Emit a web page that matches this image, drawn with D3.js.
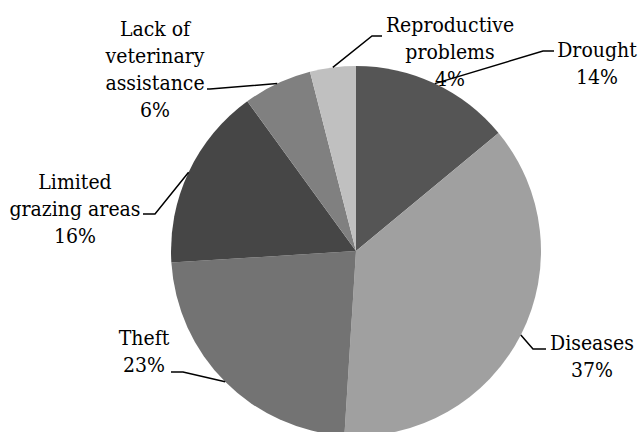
<!DOCTYPE html>
<html>
<head>
<meta charset="UTF-8">
<title>Livestock constraints</title>
<style>
    body { margin: 0; padding: 0; background: #fff; }
    svg { display: block; }
</style>
</head>
<body>
<svg></svg>
<script src="https://d3js.org/d3.v7.min.js"></script>
<script>

// chart data
let categories = ["Drought", "Diseases", "Theft", "Limited grazing areas", "Lack of veterinary assistance", "Reproductive problems"];
let values = [14, 37, 23, 16, 6, 4];
let labelLines = [
    ["Drought", "14%"],
    ["Diseases", "37%"],
    ["Theft", "23%"],
    ["Limited", "grazing areas", "16%"],
    ["Lack of", "veterinary", "assistance", "6%"],
    ["Reproductive", "problems", "4%"]
];
let colors = ["#555555", "#a0a0a0", "#737373", "#464646", "#808080", "#c0c0c0"];

// label layout: text centre x, first baseline y, leader elbow and end
let labelLayout = [
    {x: 597, y: 57, elbow: [543, 51], end: [554, 51]},
    {x: 592, y: 350, elbow: [533, 349], end: [546, 349]},
    {x: 144, y: 345, elbow: [183, 372], end: [171, 372]},
    {x: 75, y: 189, elbow: [155, 214], end: [143, 214]},
    {x: 155, y: 36, elbow: [210, 89], end: [207, 89]},
    {x: 450, y: 32, elbow: [372, 36], end: [382, 36]}
];

let w = 640, h = 432;
let cx = 356, cy = 251, r = 185, lineH = 27;

let svg = d3.select("svg")
    .attr("width", w)
    .attr("height", h);

let pie = d3.pie().sort(null).value(d => d);
let arcs = pie(values);
let arc = d3.arc().innerRadius(0).outerRadius(r);

let g = svg.append("g").attr("transform", `translate(${cx},${cy})`);

g.selectAll("path")
    .data(arcs)
    .enter()
    .append("path")
    .attr("d", arc)
    .attr("fill", (d, i) => colors[i]);

// leader lines
svg.append("g")
    .selectAll("polyline")
    .data(arcs)
    .enter()
    .append("polyline")
    .attr("fill", "none")
    .attr("stroke", "#000")
    .attr("stroke-width", 1.5)
    .attr("points", (d, i) => {
        let a = (d.startAngle + d.endAngle) / 2;
        let p = [cx + r * Math.sin(a), cy - r * Math.cos(a)];
        let L = labelLayout[i];
        return [p, L.elbow, L.end].map(q => q.join(",")).join(" ");
    });

// labels
let labels = svg.append("g")
    .selectAll("text")
    .data(categories)
    .enter()
    .append("text")
    .style("font-family", "'DejaVu Serif Condensed', 'DejaVu Serif', serif")
    .style("font-stretch", "condensed")
    .style("font-size", "21px")
    .attr("fill", "#000")
    .attr("text-anchor", "middle");

labels.selectAll("tspan")
    .data((d, i) => labelLines[i].map((t, j) => ({t: t, i: i, j: j})))
    .enter()
    .append("tspan")
    .attr("x", d => labelLayout[d.i].x)
    .attr("y", d => labelLayout[d.i].y + d.j * lineH)
    .text(d => d.t);

</script>
</body>
</html>
